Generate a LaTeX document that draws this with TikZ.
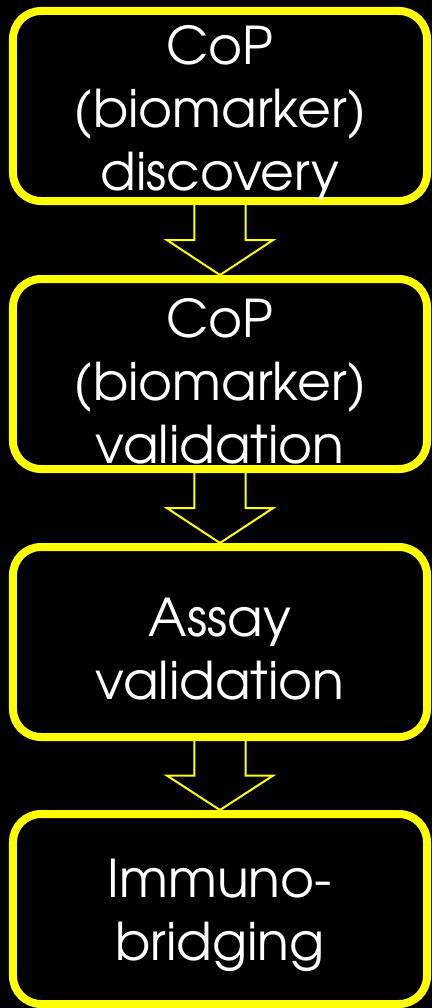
\documentclass[tikz,border=0pt]{standalone}
\usepackage{fontspec}
\setmainfont{texgyreadventor-regular.otf}
\usepackage{tikz}
\usetikzlibrary{positioning,calc}
\definecolor{markyellow}{RGB}{255,255,0}

\begin{document}
\begin{tikzpicture}[
    stage/.style={draw=markyellow, line width=0.2cm, rounded corners=0.7cm, fill=black, minimum width=10.35cm, minimum height=4.75cm},
    stagetext/.style={text=white, align=center, inner sep=0pt, font=\fontsize{37}{44.8}\selectfont},
    blockarrow/.style={draw=markyellow, line width=0.05cm}
]
    % Background
    \fill[black] (0,0) rectangle (10.8,-25.2);
    \useasboundingbox (0,0) rectangle (10.8,-25.2);

    % Stages
    \node[stage] (disc) at (5.5,-2.65) {};
    \node[stage] (valid) at (5.5,-9.35) {};
    \node[stage] (assay) at (5.5,-16.05) {};
    \node[stage] (bridge) at (5.5,-22.725) {};

    % Arrows
    \foreach \a/\b in {disc/valid, valid/assay, assay/bridge} {
        \coordinate (mid) at ($(\a.south)!0.5!(\b.north)$);
        \draw[blockarrow] ($(\a.south)+(-0.64,0)$) -- ($(mid)+(-0.64,0)$) -- ($(mid)+(-1.33,0)$)
            -- (\b.north) -- ($(mid)+(1.33,0)$) -- ($(mid)+(0.64,0)$) -- ($(\a.south)+(0.64,0)$);
    }

    % Labels
    \node[stagetext] (disctext) at ([yshift=-0.17cm]disc.center) {CoP\\(biomarker)\\discovery};
    \node[stagetext] (validtext) at ([yshift=-0.17cm]valid.center) {CoP\\(biomarker)\\validation};
    \node[stagetext] (assaytext) at ([yshift=-0.17cm]assay.center) {Assay\\validation};
    \node[stagetext] (bridgetext) at ([yshift=-0.17cm]bridge.center) {Immuno-\\bridging};
\end{tikzpicture}
\end{document}
